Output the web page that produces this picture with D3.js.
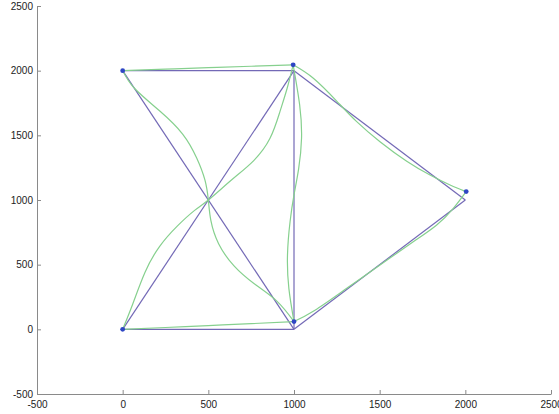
<!DOCTYPE html>
<html>
<head>
<meta charset="utf-8">
<script src="https://cdn.jsdelivr.net/npm/d3@7"></script>
<style>
  html, body { margin: 0; padding: 0; background: #fff; }
  svg { display: block; }
  .axis text { font-family: "Liberation Sans", Arial, sans-serif; font-size: 10px; fill: #222; }
  .axis path, .axis line { stroke: #8a8a8a; }
</style>
</head>
<body>
<svg id="chart" width="559" height="414"></svg>
<script>
// Axis ticks (same on both axes)
const ticks = [-500, 0, 500, 1000, 1500, 2000, 2500];

// Undeformed truss: node coordinates and member connectivity
const nodes = [[0, 0], [0, 2000], [1000, 0], [1000, 2000], [2000, 1000]];
const members = [[1, 3], [0, 2], [1, 2], [0, 3], [2, 3], [3, 4], [2, 4]];

// Displaced node positions
const deformedNodes = [[0, 0], [0, 2000], [1000, 60], [995, 2045], [2005, 1065]];

// Deformed member shapes (sampled along each member)
const topChord = [[0, 2000], [250, 2012], [500, 2023], [750, 2034], [995, 2045]];
const bottomChord = [[0, 0], [250, 14], [500, 29], [750, 44], [1000, 60]];
const diagonalDown = [[0, 2000], [70, 1862], [215, 1690], [350, 1510], [432, 1325], [480, 1155], [500, 1000],
  [515, 840], [560, 662], [650, 490], [770, 350], [900, 218], [1000, 60]];
const diagonalUp = [[0, 0], [60, 200], [130, 440], [215, 640], [320, 800], [420, 920], [500, 1000],
  [640, 1160], [765, 1305], [860, 1477], [918, 1683], [960, 1864], [995, 2045]];
const vertical = [[1000, 60], [970, 317], [962, 575], [977, 832], [1000, 1039], [1027, 1240],
  [1044, 1477], [1033, 1735], [995, 2045]];
const rightUpper = [[995, 2045], [1113, 1941], [1249, 1765], [1366, 1606], [1502, 1451], [1658, 1300],
  [1794, 1193], [1911, 1116], [2005, 1065]];
const rightLower = [[1000, 60], [1120, 145], [1308, 317], [1502, 497], [1696, 677], [1833, 807],
  [1930, 936], [2005, 1065]];
const deformedShapes = [topChord, bottomChord, diagonalDown, diagonalUp, vertical, rightUpper, rightLower];

const svg = d3.select("#chart");
const x = d3.scaleLinear().domain([-500, 2500]).range([37, 551]);
const y = d3.scaleLinear().domain([-500, 2500]).range([394, 6]);

// Axes with inward ticks
svg.append("g")
  .attr("class", "axis")
  .attr("transform", `translate(0,${y(-500)})`)
  .call(d3.axisBottom(x).tickValues(ticks).tickFormat(d => String(d))
    .tickSizeInner(-4).tickSizeOuter(0).tickPadding(7));

svg.append("g")
  .attr("class", "axis")
  .attr("transform", `translate(${x(-500)},0)`)
  .call(d3.axisLeft(y).tickValues(ticks).tickFormat(d => String(d))
    .tickSizeInner(-4).tickSizeOuter(0).tickPadding(4));

// Undeformed members
svg.append("g")
  .selectAll("line")
  .data(members)
  .join("line")
  .attr("x1", d => x(nodes[d[0]][0]))
  .attr("y1", d => y(nodes[d[0]][1]))
  .attr("x2", d => x(nodes[d[1]][0]))
  .attr("y2", d => y(nodes[d[1]][1]))
  .attr("stroke", "#7369b6")
  .attr("stroke-width", 1.2);

// Deformed members
const curve = d3.line()
  .x(d => x(d[0]))
  .y(d => y(d[1]))
  .curve(d3.curveNatural);

svg.append("g")
  .selectAll("path")
  .data(deformedShapes)
  .join("path")
  .attr("d", curve)
  .attr("fill", "none")
  .attr("stroke", "#86d08e")
  .attr("stroke-width", 1.2);

// Displaced node markers
svg.append("g")
  .selectAll("circle")
  .data(deformedNodes)
  .join("circle")
  .attr("cx", d => x(d[0]))
  .attr("cy", d => y(d[1]))
  .attr("r", 2.4)
  .attr("fill", "#2e46c4");
</script>
</body>
</html>
